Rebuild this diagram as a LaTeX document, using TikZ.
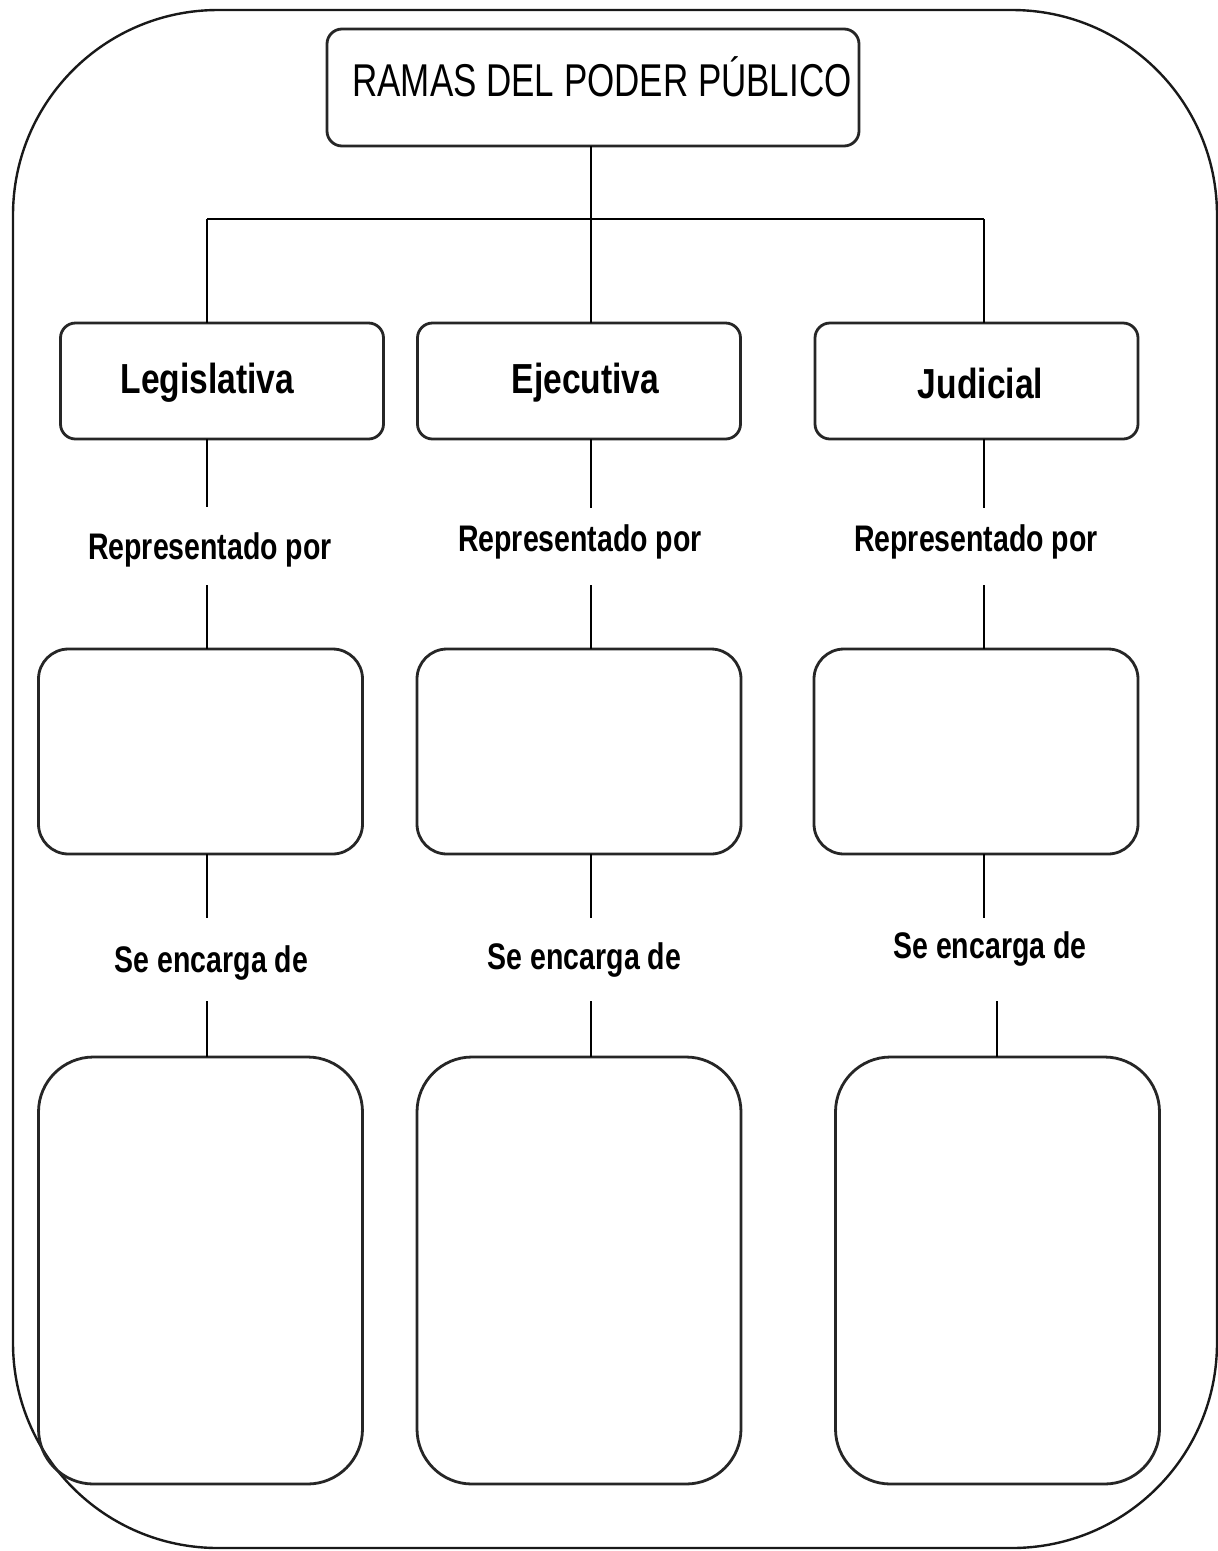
\documentclass[tikz,border=0pt]{standalone}
\usepackage{fontspec}
\setmainfont{Liberation Sans}
\newfontfamily\titlefont[FakeStretch=0.76]{Liberation Sans}
\newfontfamily\branchfont[FakeStretch=0.80]{Liberation Sans}
\newfontfamily\smallfont[FakeStretch=0.77]{Liberation Sans}
\begin{document}
\begin{tikzpicture}[x=1pt,y=-1pt,
  outerbox/.style={draw=black!90, line width=2.4pt, rounded corners=205pt},
  box/.style={draw=black!85, line width=2.8pt, rounded corners=15pt, inner sep=0pt, outer sep=0pt},
  midbox/.style={box, rounded corners=30pt, minimum width=324pt, minimum height=205pt},
  bigbox/.style={box, rounded corners=55pt, minimum width=324pt, minimum height=427pt},
  topbox/.style={box, minimum width=323pt, minimum height=116pt},
  conn/.style={draw=black, line width=2.3pt},
  titletext/.style={inner sep=0pt, anchor=base, font=\titlefont\fontsize{46}{52}\selectfont},
  branchtext/.style={inner sep=0pt, anchor=base, font=\branchfont\bfseries\fontsize{42}{48}\selectfont},
  linktext/.style={inner sep=0pt, anchor=base, font=\smallfont\bfseries\fontsize{37}{42}\selectfont}
]
\useasboundingbox (0,0) rectangle (1218,1551);
\fill[white] (0,0) rectangle (1218,1551);
\draw[outerbox] (13,10) rectangle (1217,1548);

% title
\node[box, minimum width=532pt, minimum height=117pt] (title) at (593,87.5) {};
\node[titletext] (titlet) at (602,96) {RAMAS DEL PODER PÚBLICO};

% branch boxes
\node[topbox] (L1) at (222,381) {};
\node[topbox] (E1) at (579,381) {};
\node[topbox] (J1) at (976.5,381) {};
\node[branchtext] (L1t) at (207.5,393) {Legislativa};
\node[branchtext] (E1t) at (585.5,393) {Ejecutiva};
\node[branchtext] (J1t) at (980.5,398) {Judicial};

% second row
\node[midbox] (L2) at (200.5,751.5) {};
\node[midbox] (E2) at (579,751.5) {};
\node[midbox] (J2) at (976,751.5) {};

% third row
\node[bigbox] (L3) at (200.5,1270.5) {};
\node[bigbox] (E3) at (579,1270.5) {};
\node[bigbox] (J3) at (997.5,1270.5) {};

% link texts
\node[linktext] (Lr) at (210,559) {Representado por};
\node[linktext] (Er) at (580,551) {Representado por};
\node[linktext] (Jr) at (976,551) {Representado por};
\node[linktext] (Ls) at (211.5,972) {Se encarga de};
\node[linktext] (Es) at (584.5,969) {Se encarga de};
\node[linktext] (Js) at (990,958) {Se encarga de};

% tree connectors
\coordinate (barL) at (207,219);
\coordinate (barM) at (591,219);
\coordinate (barR) at (984,219);
\draw[conn] (title.south -| barM) -- (E1.north -| barM);
\draw[conn] (barL) -- (barR);
\draw[conn] (barL) -- (L1.north -| barL);
\draw[conn] (barR) -- (J1.north -| barR);

% column connector ends
\coordinate (La) at (207,507);  \coordinate (Lb) at (207,585);
\coordinate (Lc) at (207,918);  \coordinate (Ld) at (207,1001);
\coordinate (Ea) at (591,508);  \coordinate (Eb) at (591,585);
\coordinate (Ec) at (591,918);  \coordinate (Ed) at (591,1001);
\coordinate (Ja) at (984,508);  \coordinate (Jb) at (984,585);
\coordinate (Jc) at (984,918);  \coordinate (Jd) at (997,1001);

\draw[conn] (L1.south -| La) -- (La);
\draw[conn] (Lb) -- (L2.north -| Lb);
\draw[conn] (L2.south -| Lc) -- (Lc);
\draw[conn] (Ld) -- (L3.north -| Ld);

\draw[conn] (E1.south -| Ea) -- (Ea);
\draw[conn] (Eb) -- (E2.north -| Eb);
\draw[conn] (E2.south -| Ec) -- (Ec);
\draw[conn] (Ed) -- (E3.north -| Ed);

\draw[conn] (J1.south -| Ja) -- (Ja);
\draw[conn] (Jb) -- (J2.north -| Jb);
\draw[conn] (J2.south -| Jc) -- (Jc);
\draw[conn] (Jd) -- (J3.north -| Jd);
\end{tikzpicture}
\end{document}
